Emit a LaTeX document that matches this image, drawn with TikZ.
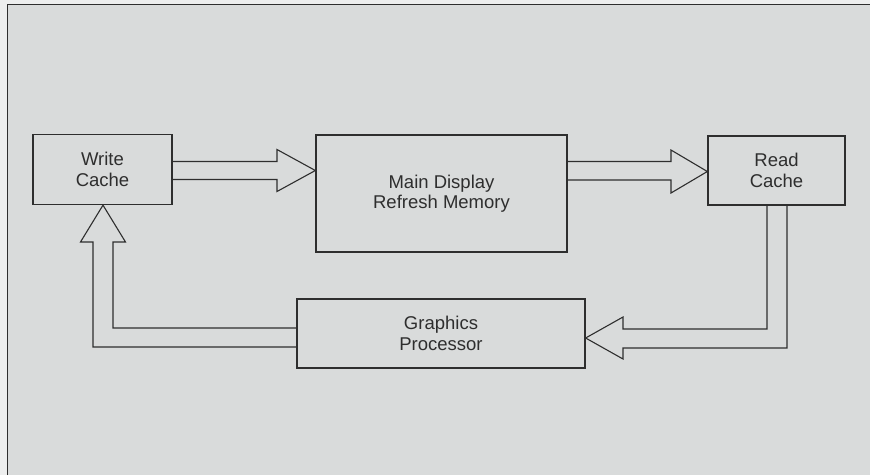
\documentclass[tikz,border=0pt]{standalone}
\usepackage{fontspec}
\setmainfont{Liberation Sans}
\usetikzlibrary{calc}
\definecolor{panelgray}{HTML}{D9DBDB}
\definecolor{edgegray}{HTML}{EDEEEE}
\definecolor{inkdark}{HTML}{2E2E2E}
\tikzset{
  unitbox/.style={draw=inkdark,line width=1.3pt,align=center,inner sep=0pt,text=inkdark,font=\fontsize{18.5}{20.5}\selectfont},
  bus/.style={draw=inkdark,line width=1.1pt,line join=miter}
}

\begin{document}
\begin{tikzpicture}[x=1pt,y=-1pt]
  \useasboundingbox (0,0) rectangle (870,475);
  \fill[edgegray] (0,0) rectangle (870,475);
  \fill[panelgray] (7,4) rectangle (870,475);
  \draw[inkdark,line width=1pt] (7,475)--(7,4)--(870,4);
  \node[unitbox,minimum width=139pt,minimum height=70pt] (wcache) at (102.5,169.5){Write\\Cache};
  \node[unitbox,minimum width=251pt,minimum height=117pt] (memory) at (441.5,193.5){Main Display\\Refresh Memory};
  \node[unitbox,minimum width=137pt,minimum height=69pt] (rcache) at (776.5,170.5){Read\\Cache};
  \node[unitbox,minimum width=288pt,minimum height=69pt] (gproc) at (441,333.5){Graphics\\Processor};
  % write cache -> memory
  \draw[bus] (wcache.east |- 0,161.5) -- (277,161.5) -- (277,149.5) -- (memory.west |- 0,170.5) -- (277,191.5) -- (277,179.5) -- (wcache.east |- 0,179.5);
  % memory -> read cache
  \draw[bus] (memory.east |- 0,161.5) -- (671,161.5) -- (671,150) -- (rcache.west |- 0,171.5) -- (671,193) -- (671,180) -- (memory.east |- 0,180);
  % read cache -> graphics processor
  \draw[bus] (rcache.south -| 767,0) -- (767,329) -- (623,329) -- (623,317) -- (gproc.east |- 0,338) -- (623,359) -- (623,348) -- (787,348) -- (rcache.south -| 787,0);
  % graphics processor -> write cache
  \draw[bus] (gproc.west |- 0,328) -- (113,328) -- (113,242) -- (125.5,242) -- (wcache.south -| 103,0) -- (80.5,242) -- (93,242) -- (93,347) -- (gproc.west |- 0,347);
\end{tikzpicture}
\end{document}
